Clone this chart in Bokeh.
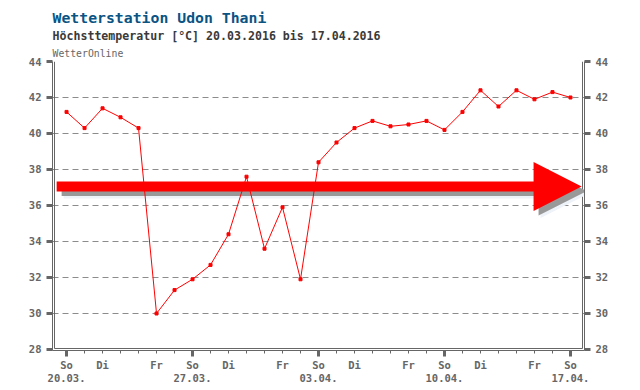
from bokeh.plotting import figure
from bokeh.models import Range1d, LinearAxis, FixedTicker, Title
from bokeh.embed import file_html
from bokeh.resources import INLINE

# ---------------- data ----------------
days = list(range(29))  # 0 = Sunday 20.03.2016 ... 28 = Sunday 17.04.2016
temps = [41.2, 40.3, 41.4, 40.9, 40.3, 30.0, 31.3, 31.9, 32.7, 34.4,
         37.6, 33.6, 35.9, 31.9, 38.4, 39.5, 40.3, 40.7, 40.4, 40.5,
         40.7, 40.2, 41.2, 42.4, 41.5, 42.4, 41.9, 42.3, 42.0]
y_ticks = [28, 30, 32, 34, 36, 38, 40, 42, 44]
grid_levels = [30, 32, 34, 36, 38, 40, 42, 44]
weekday_names = ["So", "Mo", "Di", "Mi", "Do", "Fr", "Sa"]
shown_weekdays = ["So", "Di", "Fr"]
sunday_days = [0, 7, 14, 21, 28]
sunday_dates = ["20.03.", "27.03.", "03.04.", "10.04.", "17.04."]
trend_level = 37.05
trend_start, trend_head, trend_end = -0.55, 25.95, 28.62

title_text = "Wetterstation Udon Thani"
subtitle_text = "Höchsttemperatur [°C] 20.03.2016 bis 17.04.2016"
source_text = "WetterOnline"

# ---------------- layout ----------------
X0, X1 = -0.78, 28.78
Y0, Y1 = 27.944, 44.0
FW, FH = 532, 289
px_x = FW / (X1 - X0)
px_y = FH / (Y1 - Y0)

AX = "#666666"
FONT = "DejaVu Sans Mono"

p = figure(frame_width=FW, frame_height=FH, output_backend="svg", toolbar_location=None,
           x_range=Range1d(X0, X1), y_range=Range1d(Y0, Y1),
           min_border_left=52, min_border_right=48, min_border_top=61,
           min_border_bottom=10, title=None)
p.outline_line_color = None
p.background_fill_color = "white"
p.border_fill_color = "white"
p.xgrid.visible = False
p.xaxis.visible = False
p.yaxis.visible = False

p.ygrid.ticker = FixedTicker(ticks=grid_levels)
p.ygrid.grid_line_color = "#8c8c8c"
p.ygrid.grid_line_dash = "6 4"
p.ygrid.grid_line_width = 1

def style_y(ax):
    ax.ticker = FixedTicker(ticks=y_ticks, minor_ticks=[])
    ax.axis_line_color = AX
    ax.axis_line_width = 1
    ax.major_tick_line_color = AX
    ax.major_tick_line_width = 3
    ax.major_tick_in = 0
    ax.major_tick_out = 6
    ax.minor_tick_line_color = None
    ax.major_label_standoff = 5
    ax.major_label_text_font = FONT
    ax.major_label_text_font_style = "bold"
    ax.major_label_text_font_size = "10.5px"
    ax.major_label_text_color = AX

left = LinearAxis()
style_y(left)
p.add_layout(left, "left")
right = LinearAxis()
style_y(right)
p.add_layout(right, "right")

# bottom axis 1: tick marks only
tick_axis = LinearAxis(ticker=FixedTicker(ticks=sunday_days, minor_ticks=days))
tick_axis.axis_line_color = AX
tick_axis.major_tick_line_color = AX
tick_axis.major_tick_line_width = 3
tick_axis.major_tick_in = 0
tick_axis.major_tick_out = 6
tick_axis.minor_tick_line_color = AX
tick_axis.minor_tick_line_width = 1
tick_axis.minor_tick_in = 0
tick_axis.minor_tick_out = 3
tick_axis.major_label_overrides = {d: "" for d in sunday_days}
tick_axis.major_label_text_font_size = "1px"
tick_axis.major_label_standoff = 0
p.add_layout(tick_axis, "below")

# bottom axis 2: weekday names and dates
label_days = [d for d in days if weekday_names[d % 7] in shown_weekdays]
overrides = {}
for d in label_days:
    name = weekday_names[d % 7]
    if d in sunday_days:
        overrides[d] = name + "\n" + sunday_dates[sunday_days.index(d)]
    else:
        overrides[d] = name
lab_axis = LinearAxis(ticker=FixedTicker(ticks=label_days, minor_ticks=[]))
lab_axis.major_label_overrides = overrides
lab_axis.axis_line_color = None
lab_axis.major_tick_line_color = None
lab_axis.minor_tick_line_color = None
lab_axis.major_tick_out = 0
lab_axis.major_tick_in = 0
lab_axis.major_label_standoff = 2
lab_axis.major_label_text_font = FONT
lab_axis.major_label_text_font_style = "bold"
lab_axis.major_label_text_font_size = "10.5px"
lab_axis.major_label_text_color = AX
lab_axis.major_label_text_line_height = 1.1
p.add_layout(lab_axis, "below")

# inner frame lines (double-line border)
dx_in = 2 / px_x
dy_in = 2 / px_y
p.segment(x0=[X0 + dx_in, X1 - dx_in, X0 + dx_in],
          y0=[Y0 + dy_in, Y0 + dy_in, Y0 + dy_in],
          x1=[X0 + dx_in, X1 - dx_in, X1 - dx_in],
          y1=[Y1, Y1, Y0 + dy_in], line_color=AX, line_width=1)

# trend arrow
h = 5 / px_y
H = 24.5 / px_y
ax_pts = [trend_start, trend_head, trend_head, trend_end, trend_head, trend_head, trend_start]
ay_pts = [trend_level + h, trend_level + h, trend_level + H, trend_level,
          trend_level - H, trend_level - h, trend_level - h]
for ddx, ddy, col in [(7, 7, "#eef2f9"), (5, 4.5, "#999999")]:
    p.patch([x + ddx / px_x for x in ax_pts], [y - ddy / px_y for y in ay_pts],
            fill_color=col, line_color=None)
p.patch(ax_pts, ay_pts, fill_color="#ff0000", line_color=None)

# data
p.line(days, temps, line_color="#ff0000", line_width=1)
p.scatter(days, temps, marker="square", size=3, fill_color="#ff0000", line_color="#ff0000")

# titles (first added = closest to plot)
p.add_layout(Title(text=source_text, text_font=FONT, text_font_size="9.8px",
                   text_font_style="normal", text_color="#666666", align="left",
                   standoff=6), "above")
p.add_layout(Title(text=subtitle_text, text_font=FONT, text_font_size="11.6px",
                   text_font_style="bold", text_color="#3a3a3a", align="left",
                   standoff=0), "above")
p.add_layout(Title(text=title_text, text_font=FONT, text_font_size="14.8px",
                   text_font_style="bold", text_color="#0a5484", align="left",
                   standoff=1), "above")

open("out.html", "w").write(file_html(p, INLINE))
